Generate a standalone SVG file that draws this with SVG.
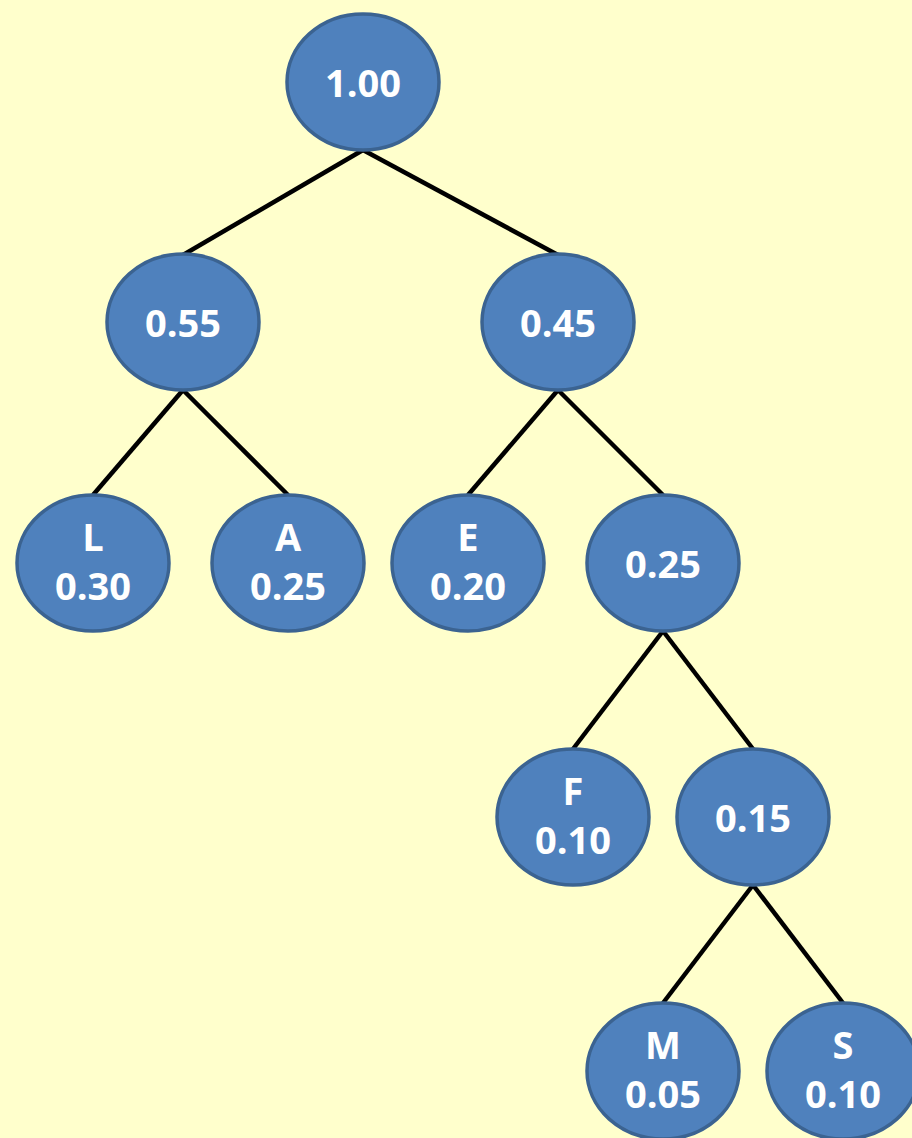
<svg xmlns="http://www.w3.org/2000/svg" width="912" height="1138" viewBox="0 0 912 1138">
<style>
.n{fill:#4f81bd;stroke:#3b6391;stroke-width:3.5}
.t{font-family:"Open Sans","Liberation Sans",Arial,sans-serif;font-weight:bold;font-size:38px;fill:#fff;text-anchor:middle}
.e{stroke:#000;stroke-width:4.5;fill:none}
</style>
<rect width="912" height="1138" fill="#ffffcc"/>
<g id="edges">
<line class="e" x1="363" y1="150" x2="183" y2="255"/>
<line class="e" x1="363" y1="150" x2="558" y2="255"/>
<line class="e" x1="183" y1="390" x2="93" y2="495"/>
<line class="e" x1="183" y1="390" x2="288" y2="495"/>
<line class="e" x1="558" y1="390" x2="468" y2="495"/>
<line class="e" x1="558" y1="390" x2="663" y2="495"/>
<line class="e" x1="663" y1="631" x2="573" y2="749"/>
<line class="e" x1="663" y1="631" x2="753" y2="749"/>
<line class="e" x1="753" y1="885" x2="663" y2="1003"/>
<line class="e" x1="753" y1="885" x2="843" y2="1003"/>
</g>
<g id="n100"><ellipse class="n" cx="363" cy="82" rx="76" ry="68"/><text class="t" x="363" y="97">1.00</text></g>
<g id="n055"><ellipse class="n" cx="183" cy="322" rx="76" ry="68"/><text class="t" x="183" y="337">0.55</text></g>
<g id="n045"><ellipse class="n" cx="558" cy="322" rx="76" ry="68"/><text class="t" x="558" y="337">0.45</text></g>
<g id="nL"><ellipse class="n" cx="93" cy="563" rx="76" ry="68"/><text class="t" x="93" y="551">L</text><text class="t" x="93" y="600">0.30</text></g>
<g id="nA"><ellipse class="n" cx="288" cy="563" rx="76" ry="68"/><text class="t" x="288" y="551">A</text><text class="t" x="288" y="600">0.25</text></g>
<g id="nE"><ellipse class="n" cx="468" cy="563" rx="76" ry="68"/><text class="t" x="468" y="551">E</text><text class="t" x="468" y="600">0.20</text></g>
<g id="n025"><ellipse class="n" cx="663" cy="563" rx="76" ry="68"/><text class="t" x="663" y="578">0.25</text></g>
<g id="nF"><ellipse class="n" cx="573" cy="817" rx="76" ry="68"/><text class="t" x="573" y="805">F</text><text class="t" x="573" y="854">0.10</text></g>
<g id="n015"><ellipse class="n" cx="753" cy="817" rx="76" ry="68"/><text class="t" x="753" y="832">0.15</text></g>
<g id="nM"><ellipse class="n" cx="663" cy="1071" rx="76" ry="68"/><text class="t" x="663" y="1059">M</text><text class="t" x="663" y="1108">0.05</text></g>
<g id="nS"><ellipse class="n" cx="843" cy="1071" rx="76" ry="68"/><text class="t" x="843" y="1059">S</text><text class="t" x="843" y="1108">0.10</text></g>
</svg>
